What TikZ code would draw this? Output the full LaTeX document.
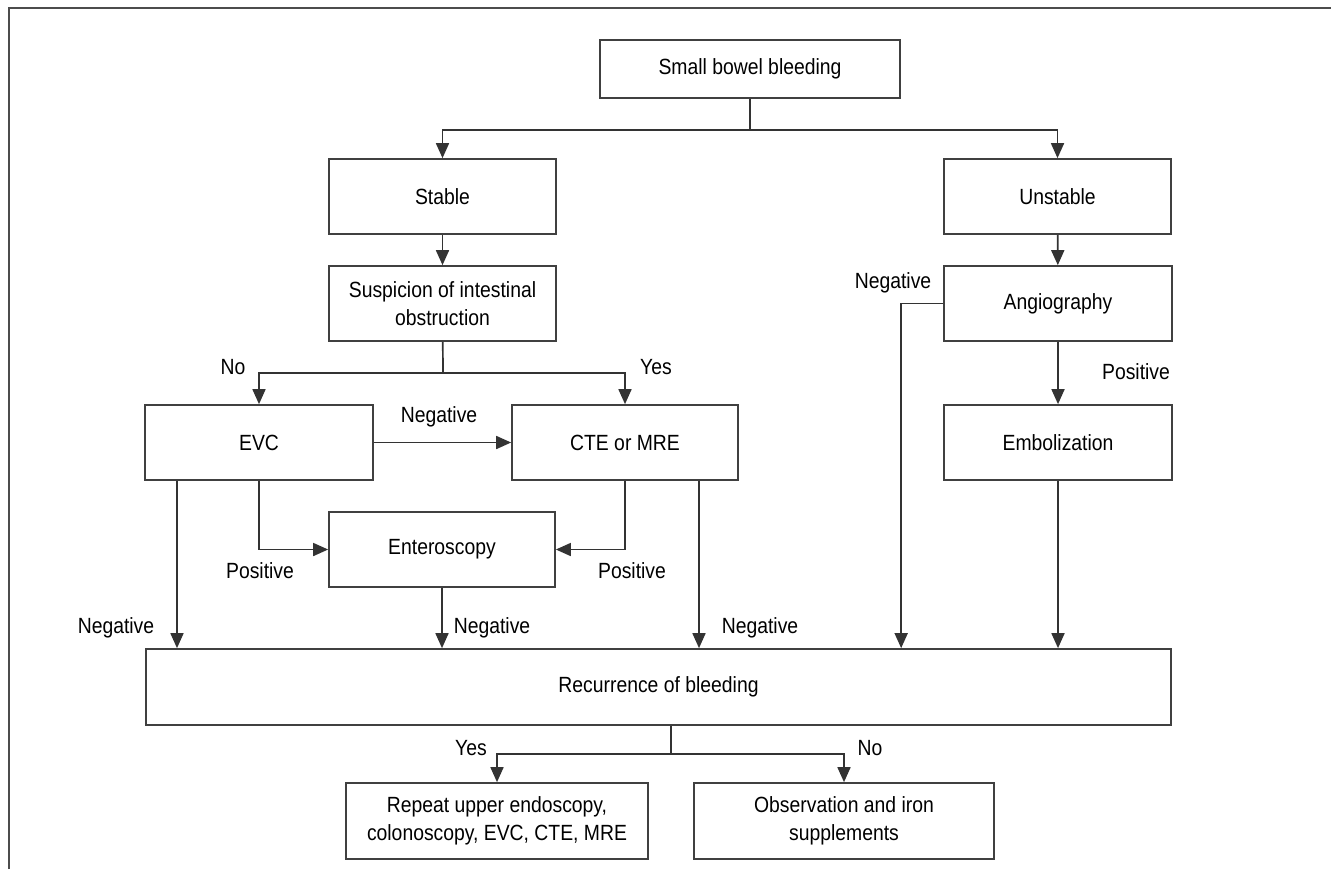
\documentclass[tikz,border=0pt]{standalone}
\usepackage{fontspec}
\setmainfont{Liberation Sans}[FakeStretch=0.88]
\usetikzlibrary{arrows.meta}
\tikzset{
  box/.style={draw=black!75, line width=0.85pt, align=center, inner sep=2pt, font=\fontsize{11}{14}\selectfont},
  lbl/.style={font=\fontsize{11}{14}\selectfont, inner sep=0pt},
  arr/.style={draw=black!80, line width=0.85pt, -{Triangle[length=7.5pt,width=6.5pt]}},
  ln/.style={draw=black!80, line width=0.85pt},
}
\newcommand{\flowbox}[5]{%
 \node[box, minimum width=#4, minimum height=#5] (#1) at (#2) {#3};%
}

\begin{document}
\begin{tikzpicture}[x=0.5pt,y=-0.5pt]
   \useasboundingbox (0,0) rectangle (1331,869);
   \draw[black!70, line width=0.8pt] (9,869) -- (9,8) -- (1331,8);
   \flowbox{sbb}{750,69}{Small bowel bleeding}{150pt}{29pt}
   \flowbox{stable}{442.5,196.5}{Stable}{113.5pt}{37.5pt}
   \flowbox{unstable}{1057.5,196.5}{Unstable}{113.5pt}{37.5pt}
   \flowbox{susp}{442.5,303.5}{Suspicion of intestinal\\obstruction}{113.5pt}{37.5pt}
   \flowbox{angio}{1058,303.5}{Angiography}{114pt}{37.5pt}
   \flowbox{evc}{259,442.5}{EVC}{114pt}{37.5pt}
   \flowbox{cte}{625,442.5}{CTE or MRE}{113pt}{37.5pt}
   \flowbox{embol}{1058,442.5}{Embolization}{114pt}{37.5pt}
   \flowbox{entero}{442,549.5}{Enteroscopy}{113pt}{37.5pt}
   \flowbox{recur}{658.5,687}{Recurrence of bleeding}{512.5pt}{38pt}
   \flowbox{repeat}{497,821}{Repeat upper endoscopy,\\colonoscopy, EVC, CTE, MRE}{151pt}{38pt}
   \flowbox{observ}{844,821}{Observation and iron\\supplements}{150pt}{38pt}
   \coordinate (s1) at (750,130);
   \coordinate (s2) at (443,373);
   \coordinate (s3) at (671,754);
   \coordinate (evcneg) at ([xshift=-41pt]evc.south);
   \coordinate (cteneg) at ([xshift=37pt]cte.south);
   \coordinate (angneg) at ([xshift=-21pt]angio.west);
   \draw[ln] (sbb) -- (s1);
   \draw[arr] (s1) -| (stable);
   \draw[arr] (s1) -| (unstable);
   \draw[arr] (stable) -- (susp);
   \draw[ln] (susp) -- (s2);
   \draw[arr] (s2) -| (evc);
   \draw[arr] (s2) -| (cte);
   \draw[arr] (evc) -- (cte);
   \draw[arr] (evc) |- (entero);
   \draw[arr] (cte) |- (entero);
   \draw[arr] (evcneg) -- (evcneg |- recur.north);
   \draw[arr] (entero) -- (entero |- recur.north);
   \draw[arr] (cteneg) -- (cteneg |- recur.north);
   \draw[arr] (unstable) -- (angio);
   \draw[arr] (angio.west) -- (angneg) -- (angneg |- recur.north);
   \draw[arr] (angio) -- (embol);
   \draw[arr] (embol) -- (embol |- recur.north);
   \draw[ln] (recur.south -| s3) -- (s3);
   \draw[arr] (s3) -| (repeat);
   \draw[arr] (s3) -| (observ);
   \node[lbl] (no1) at (233,367) {No};
   \node[lbl] (yes1) at (656,367) {Yes};
   \node[lbl] (neg1) at (439,417) {Negative};
   \node[lbl] (pos1) at (260,571) {Positive};
   \node[lbl] (pos2) at (632,571) {Positive};
   \node[lbl] (neg2) at (116,628) {Negative};
   \node[lbl] (neg3) at (492,628) {Negative};
   \node[lbl] (neg4) at (760,628) {Negative};
   \node[lbl] (neg5) at (893,283) {Negative};
   \node[lbl] (pos3) at (1136,372) {Positive};
   \node[lbl] (yes2) at (471,748) {Yes};
   \node[lbl] (no2) at (870,748) {No};
\end{tikzpicture}
\end{document}
